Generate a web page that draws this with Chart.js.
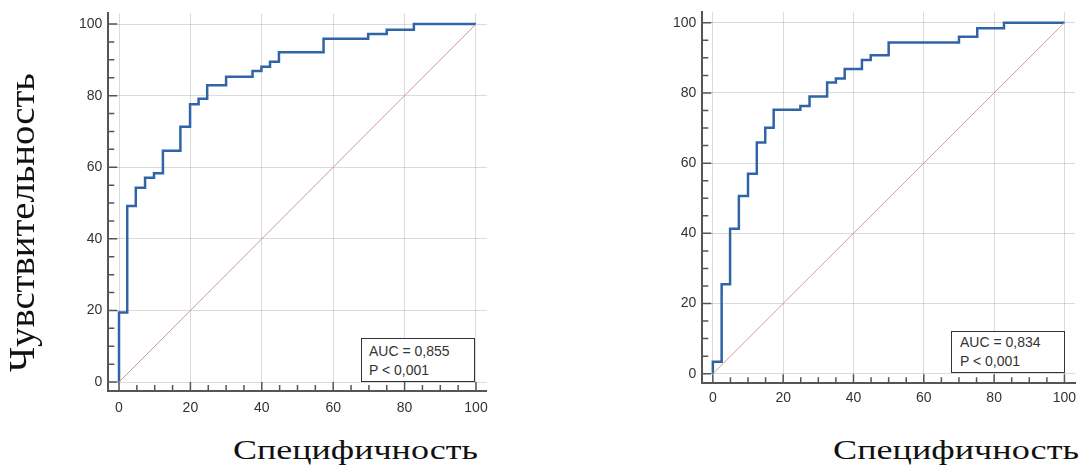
<!DOCTYPE html>
<html lang="ru">
<head>
<meta charset="UTF-8">
<title>ROC</title>
<script src="https://cdn.jsdelivr.net/npm/chart.js"></script>
<style>
    body { margin: 0; background: #fff; width: 1082px; height: 470px; position: relative; overflow: hidden; }
    canvas { position: absolute; top: 0; }
    #rocLeft { left: 0; }
    #rocRight { left: 600px; }
    .auc {
        position: absolute; box-sizing: border-box; width: 114px;
        border: 1.5px solid #333; background: #fff;
        font: 14px "Liberation Sans", Arial, sans-serif; color: #333;
        line-height: 19px; padding-left: 7px; white-space: nowrap;
    }
    .title {
        position: absolute; font-family: "Liberation Serif", "Times New Roman", serif;
        color: #111; white-space: nowrap; transform-origin: 0 0;
    }
</style>
</head>
<body>

<canvas id="rocLeft" width="500" height="420"></canvas>
<canvas id="rocRight" width="482" height="420"></canvas>

<div class="auc" style="left:361px; top:338px; height:44px; padding-top:3px;">AUC = 0,855<br>P &lt; 0,001</div>
<div class="auc" style="left:951px; top:331px; height:42px; padding-top:1px; padding-left:8px;">AUC = 0,834<br>P &lt; 0,001</div>

<div class="title" id="ttlY" style="font-size:35px; line-height:35px; left:5px; top:372px;">Чувствительность</div>
<div class="title" id="ttlX1" style="font-size:28px; line-height:28px; left:233px; top:436px;">Специфичность</div>
<div class="title" id="ttlX2" style="font-size:28px; line-height:28px; left:833px; top:436px;">Специфичность</div>

<script>
// ROC curve 1 (left): corner points, 100 - specificity vs sensitivity
const leftFpr = [0, 0, 2.3, 4.7, 7.3, 9.8, 12.3, 17.2, 19.9, 22.3, 24.7, 30.0, 37.4, 39.9, 42.3, 44.8, 57.3, 69.8, 75.0, 82.6, 100];
const leftTpr = [0, 19.4, 49.2, 54.3, 57.1, 58.3, 64.6, 71.3, 77.6, 79.1, 82.9, 85.3, 86.9, 88.1, 89.5, 92.1, 95.9, 97.2, 98.4, 100, 100];

// ROC curve 2 (right)
const rightFpr = [0, 0, 2.5, 4.9, 7.4, 10.0, 12.5, 14.9, 17.3, 24.9, 27.5, 32.5, 35.0, 37.5, 42.4, 44.9, 50.0, 70.0, 75.2, 82.8, 100];
const rightTpr = [0, 3.4, 25.5, 41.3, 50.6, 57.0, 65.9, 70.1, 75.2, 76.3, 79.0, 83.0, 84.1, 86.8, 89.4, 90.7, 94.4, 96.0, 98.4, 100, 100];

// reference diagonal
const diagX = [0, 100];
const diagY = [0, 100];

const tickValues = [0, 20, 40, 60, 80, 100];
const minorTicks = [0, 5, 10, 15, 20, 25, 30, 35, 40, 45, 50, 55, 60, 65, 70, 75, 80, 85, 90, 95, 100];

const toPoints = (xs, ys) => xs.map((v, i) => ({ x: v, y: ys[i] }));

// small ticks pointing into the plot, as in the original
const innerTicks = {
    id: 'innerTicks',
    afterDraw(chart) {
        const { ctx, chartArea: a, scales: { x, y } } = chart;
        ctx.save();
        ctx.strokeStyle = '#555';
        ctx.lineWidth = 1.5;
        ctx.beginPath();
        minorTicks.forEach(v => {
            const len = v % 20 === 0 ? 9 : 6;
            const py = y.getPixelForValue(v);
            ctx.moveTo(a.left, py);
            ctx.lineTo(a.left + len, py);
            const px = x.getPixelForValue(v);
            ctx.moveTo(px, a.bottom);
            ctx.lineTo(px, a.bottom - len);
        });
        ctx.stroke();
        ctx.restore();
    }
};

function makeRoc(id, fpr, tpr, box) {
    const tickFont = { family: '"Liberation Sans", Arial, sans-serif', size: 14 };
    const axis = (min, fit, pad) => ({
        type: 'linear',
        min: min,
        max: 103,
        afterBuildTicks: s => { s.ticks = tickValues.map(v => ({ value: v })); },
        afterFit: s => {
            fit(s);
            s.paddingTop = s.paddingBottom = s.paddingLeft = s.paddingRight = 0;
        },
        grid: { color: 'rgba(0,0,0,0.14)', lineWidth: 1, drawTicks: false },
        border: { display: true, color: '#555', width: 2 },
        ticks: { font: tickFont, color: '#333', padding: pad }
    });

    const xAxis = axis(-3, s => { s.height = box.xh; }, box.xpad);
    const yAxis = axis(box.ymin, s => { s.width = box.yw; }, 6);

    new Chart(document.getElementById(id), {
        type: 'line',
        data: {
            datasets: [{
                data: toPoints(diagX, diagY),
                borderColor: '#dc9696',
                borderWidth: 1,
                pointRadius: 0
            }, {
                data: toPoints(fpr, tpr),
                borderColor: '#2f64a7',
                borderWidth: 2.5,
                stepped: 'before',
                pointRadius: 0
            }]
        },
        options: {
            responsive: false,
            animation: false,
            devicePixelRatio: 1,
            layout: { autoPadding: false, padding: box.pad },
            plugins: { legend: { display: false }, tooltip: { enabled: false } },
            scales: { x: xAxis, y: yAxis }
        },
        plugins: [innerTicks]
    });
}

makeRoc('rocLeft', leftFpr, leftTpr, {
    ymin: -2.5, yw: 108.3, xh: 29, xpad: 9,
    pad: { left: 0, top: 13.3, right: 13.3, bottom: 0 }
});
makeRoc('rocRight', rightFpr, rightTpr, {
    ymin: -2.7, yw: 102.3, xh: 36.8, xpad: 7,
    pad: { left: 0, top: 12.2, right: 7, bottom: 0 }
});

// stretch the big axis titles to the width they have in the picture
function fitTitle(id, target, rotate) {
    const el = document.getElementById(id);
    const w = el.getBoundingClientRect().width;
    el.style.transform = (rotate ? 'rotate(-90deg) ' : '') + 'scaleX(' + (target / w) + ')';
}
fitTitle('ttlY', 299, true);
fitTitle('ttlX1', 245, false);
fitTitle('ttlX2', 246, false);
</script>

</body>
</html>
